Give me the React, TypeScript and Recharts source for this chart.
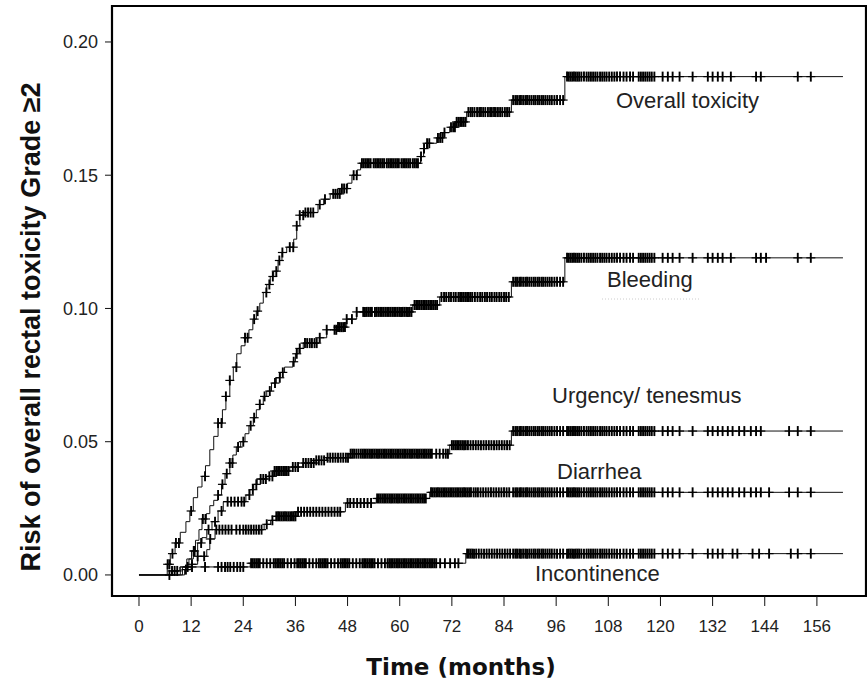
import { ComposedChart, Line, Scatter, XAxis, YAxis, ReferenceArea } from "recharts";

// axis layout (months / cumulative risk)
const X_MIN = -6.21;
const X_MAX = 167.3;
const Y_MIN = -0.0079;
const Y_MAX = 0.2135;
const END_MONTH = 162;
const X_TICKS = [0, 12, 24, 36, 48, 60, 72, 84, 96, 108, 120, 132, 144, 156];
const Y_TICKS = [0, 0.05, 0.1, 0.15, 0.2];

// step curves: [month, cumulative risk]
const OVERALL_STEPS: [number, number][] = [
    [0, 0], [6.5, 0.004], [7.2, 0.008], [8.3, 0.012], [9.5, 0.016], [10.8, 0.02], [11.7, 0.024], [12.5, 0.029],
    [13.5, 0.033], [14.5, 0.037], [15.3, 0.041], [16.3, 0.047], [17.2, 0.052], [18.2, 0.057], [19.2, 0.062],
    [20.0, 0.067], [20.9, 0.073], [21.7, 0.078], [22.5, 0.083], [23.5, 0.086], [24.4, 0.089], [25.3, 0.092],
    [26.2, 0.096], [27.0, 0.099], [27.8, 0.102], [28.6, 0.106], [29.4, 0.109], [30.2, 0.112], [31.0, 0.114],
    [32.0, 0.118], [32.9, 0.121], [34.0, 0.123], [35.6, 0.126], [36.3, 0.131], [37.0, 0.135], [38.0, 0.136],
    [41.2, 0.139], [42.5, 0.141], [44.0, 0.143], [46.5, 0.145], [48.0, 0.147], [49.0, 0.15], [50.2, 0.152],
    [51.0, 0.1545], [64.8, 0.157], [65.5, 0.16], [66.2, 0.162], [68.5, 0.164], [70.0, 0.166], [71.5, 0.168],
    [72.8, 0.17], [75.4, 0.1737], [85.7, 0.1782], [98.0, 0.187],
];
const BLEED_STEPS: [number, number][] = [
    [0, 0], [9.5, 0.003], [11.0, 0.006], [12.1, 0.009], [13.0, 0.013], [13.8, 0.017], [14.5, 0.021], [15.5, 0.023],
    [16.3, 0.026], [17.2, 0.028], [18.2, 0.03], [19.0, 0.034], [19.8, 0.038], [20.9, 0.042], [21.6, 0.045],
    [22.4, 0.048], [23.4, 0.05], [24.4, 0.053], [25.3, 0.056], [26.3, 0.059], [27.0, 0.062], [27.8, 0.064],
    [28.6, 0.067], [29.4, 0.069], [30.5, 0.072], [31.6, 0.074], [32.5, 0.076], [33.5, 0.078], [35.4, 0.08],
    [36.0, 0.083], [36.6, 0.085], [37.8, 0.087], [41.5, 0.089], [43.2, 0.092], [45.5, 0.093], [47.8, 0.096],
    [50.1, 0.0987], [63.0, 0.1013], [69.2, 0.1043], [85.7, 0.11], [98.0, 0.119],
];
const URGENCY_STEPS: [number, number][] = [
    [0, 0], [10.0, 0.003], [11.5, 0.006], [12.5, 0.009], [13.5, 0.012], [14.5, 0.014], [15.6, 0.017], [16.8, 0.02],
    [18.2, 0.024], [19.4, 0.0275], [24.6, 0.03], [25.5, 0.032], [26.4, 0.034], [27.2, 0.036], [29.4, 0.037],
    [31.0, 0.039], [34.7, 0.0405], [37.7, 0.042], [40.5, 0.043], [43.2, 0.044], [48.5, 0.0455], [71.5, 0.0487],
    [85.7, 0.054],
];
const DIARRHEA_STEPS: [number, number][] = [
    [0, 0], [10.5, 0.002], [12.0, 0.004], [13.5, 0.007], [15.6, 0.0095], [16.3, 0.0135], [17.5, 0.017],
    [28.8, 0.019], [30.3, 0.0205], [31.6, 0.022], [36.2, 0.0237], [47.5, 0.027], [54.6, 0.0287], [66.9, 0.031],
];
const INCONT_STEPS: [number, number][] = [
    [0, 0], [7.5, 0.0015], [9.4, 0.003], [25.6, 0.0044], [75.2, 0.008],
];

// censoring times (months)
const OVERALL_CENSOR = [
    6.6, 7.0, 7.7, 8.5, 9.2, 12.0, 15.2, 18.2, 19.0, 20.0, 20.9, 22.4, 24.4, 25.0, 26.5, 27.3, 29.3, 30.0, 30.8,
    31.6, 32.3, 33.0, 34.7, 35.5, 36.3, 37.0, 37.8, 38.3, 38.9, 39.5, 40.1, 41.6, 42.8, 44.7, 45.2, 45.7, 46.2,
    46.7, 47.2, 47.8, 49.4, 50.1, 51.3, 51.7, 52.1, 52.5, 52.9, 53.3, 54.0, 54.4, 54.8, 55.2, 55.6, 56.0, 56.4,
    57.0, 57.4, 57.8, 58.2, 58.6, 59.0, 59.4, 59.8, 60.4, 60.8, 61.2, 61.6, 62.0, 62.4, 63.0, 63.4, 63.8, 64.2,
    64.9, 65.6, 66.3, 66.8, 68.8, 69.3, 69.8, 70.3, 71.8, 72.3, 72.7, 73.1, 73.5, 73.9, 74.3, 74.7, 75.1, 75.8,
    76.3, 76.7, 77.2, 77.8, 78.3, 78.7, 79.2, 79.7, 80.3, 80.8, 81.2, 81.7, 82.1, 82.6, 83.1, 83.6, 84.2, 84.7,
    85.2,
];
const BLEED_CENSOR = [
    12.6, 14.7, 15.3, 18.2, 19.2, 20.2, 20.9, 21.5, 22.8, 24.0, 25.7, 26.5, 27.8, 28.9, 30.1, 31.3, 32.4, 33.1,
    35.6, 36.3, 37.0, 38.2, 38.7, 39.3, 39.8, 40.4, 40.9, 41.6, 43.2, 45.0, 45.4, 45.8, 46.2, 46.6, 47.0, 47.4,
    47.8, 49.0, 50.1, 51.6, 52.0, 52.4, 52.8, 53.2, 53.6, 54.3, 54.7, 55.1, 55.5, 55.9, 56.3, 56.7, 57.1, 57.5,
    57.9, 58.3, 58.7, 59.1, 59.5, 59.9, 60.3, 60.7, 61.1, 61.5, 61.9, 62.3, 62.7, 63.4, 63.8, 64.2, 64.6, 65.0,
    65.4, 65.8, 66.2, 66.6, 67.0, 67.4, 67.8, 68.2, 68.6, 69.6, 70.2, 70.7, 71.3, 71.8, 72.4, 72.9, 73.5, 73.9,
    74.3, 74.7, 75.1, 75.5, 75.9, 76.3, 76.7, 77.3, 77.9, 78.5, 79.0, 79.6, 80.1, 80.7, 81.2, 81.8, 82.3, 82.9,
    83.4, 84.0, 84.5, 85.1,
];
const URGENCY_CENSOR = [
    11.2, 12.8, 14.3, 16.0, 17.5, 19.0, 20.4, 21.2, 22.0, 22.8, 23.6, 24.2, 25.4, 26.2, 27.0, 28.0, 28.6, 29.2,
    30.0, 30.7, 31.2, 31.6, 32.0, 32.4, 32.8, 33.2, 33.6, 34.0, 34.4, 35.4, 36.0, 36.6, 37.8, 38.4, 39.0, 39.6,
    40.2, 40.8, 41.4, 42.0, 42.6, 43.4, 44.0, 44.6, 45.2, 45.8, 46.4, 47.0, 47.6, 48.1, 48.7, 49.1, 49.5, 50.0,
    50.5, 51.0, 51.4, 51.8, 52.2, 52.6, 53.0, 53.4, 53.8, 54.2, 54.6, 55.0, 55.4, 55.8, 56.2, 56.6, 57.0, 57.4,
    57.8, 58.2, 58.6, 59.0, 59.4, 59.8, 60.2, 60.6, 61.0, 61.4, 61.8, 62.2, 62.6, 63.0, 63.4, 63.8, 64.2, 64.6,
    65.0, 65.4, 65.8, 66.2, 66.6, 67.0, 67.4, 68.4, 69.2, 70.0, 70.6, 71.1, 72.0, 72.4, 72.8, 73.2, 73.6, 74.0,
    74.4, 74.8, 75.2, 75.7, 76.3, 76.9, 77.5, 78.1, 78.7, 79.3, 79.9, 80.5, 81.1, 81.7, 82.3, 82.9, 83.5, 84.1,
    84.7, 85.3,
];
const DIARRHEA_CENSOR = [
    10.8, 12.2, 13.5, 15.0, 16.4, 17.8, 18.5, 19.2, 19.9, 20.6, 21.3, 22.4, 23.2, 24.0, 24.6, 25.2, 25.8, 26.4,
    27.0, 27.6, 28.2, 29.4, 30.7, 31.6, 32.0, 32.4, 32.8, 33.2, 33.6, 34.0, 34.4, 34.8, 35.2, 35.6, 36.0, 36.6,
    37.3, 38.0, 38.7, 39.4, 40.1, 40.8, 41.5, 42.2, 42.9, 43.6, 44.3, 45.0, 45.7, 46.3, 48.0, 48.6, 49.4, 50.2,
    51.0, 51.8, 52.6, 53.4, 54.8, 55.2, 55.6, 56.0, 56.4, 56.8, 57.2, 57.6, 58.0, 58.4, 58.8, 59.2, 59.6, 60.0,
    60.4, 60.8, 61.2, 61.6, 62.0, 62.4, 62.8, 63.2, 63.6, 64.0, 64.4, 64.8, 65.2, 65.6, 66.0, 67.2, 67.6, 68.0,
    68.4, 68.8, 69.2, 69.6, 70.0, 70.4, 70.8, 71.2, 71.6, 72.0, 72.4, 72.8, 73.2, 73.6, 74.0, 74.4, 74.8, 75.2,
    75.6, 76.0, 76.4, 77.0, 77.5, 78.0, 78.6, 79.2, 79.8, 80.4, 81.0, 81.6, 82.2, 82.8, 83.4, 84.0, 84.6, 85.2,
];
const INCONT_CENSOR = [
    7.0, 7.6, 8.2, 8.8, 12.2, 15.2, 18.2, 19.0, 19.8, 20.4, 21.0, 21.8, 22.6, 23.3, 24.0, 25.8, 26.2, 26.6, 27.0,
    27.4, 27.8, 28.6, 29.4, 30.2, 31.0, 31.4, 31.8, 32.2, 32.6, 33.0, 33.4, 34.2, 35.0, 35.8, 36.4, 36.8, 37.2,
    37.6, 38.0, 38.4, 39.2, 40.0, 40.8, 41.4, 41.8, 42.2, 42.6, 43.0, 43.4, 44.2, 45.0, 45.8, 46.4, 46.8, 47.2,
    47.6, 48.0, 48.4, 49.2, 50.0, 50.8, 51.4, 51.8, 52.2, 52.6, 53.0, 53.4, 53.8, 54.2, 55.0, 55.8, 56.6, 57.2,
    57.6, 58.0, 58.4, 58.8, 59.2, 59.6, 60.0, 60.4, 60.8, 61.2, 61.6, 62.0, 62.4, 62.8, 63.2, 63.6, 64.0, 64.4,
    64.8, 65.2, 65.6, 66.0, 66.4, 66.8, 67.2, 67.6, 68.0, 68.4, 69.3, 70.4, 71.6, 72.7, 73.5, 75.5, 75.9, 76.3,
    76.7, 77.1, 77.6, 78.2, 78.8, 79.4, 80.0, 80.6, 81.2, 81.8, 82.4, 83.0, 83.6, 84.2, 84.8, 85.4,
];
// late follow-up censoring shared by all endpoints
const LATE_CENSOR = [
    86.1, 86.6, 87.0, 87.5, 87.9, 88.4, 88.9, 89.3, 89.8, 90.3, 90.8, 91.2, 91.7, 92.1, 92.6, 93.0, 93.5, 94.0,
    94.5, 95.0, 95.6, 96.2, 96.9, 97.6, 98.5, 98.9, 99.3, 99.7, 100.1, 100.5, 100.9, 101.3, 101.8, 102.4, 103.0,
    103.5, 104.0, 104.5, 105.0, 105.5, 106.1, 106.6, 107.1, 107.6, 108.2, 108.8, 109.4, 110.0, 110.7, 111.5,
    112.2, 113.0, 113.7, 115.0, 115.5, 116.0, 116.5, 117.0, 117.5, 118.0, 118.6,
];
const OVERALL_TAIL = [120.5, 121.7, 122.8, 124.4, 127.4, 130.9, 132.0, 133.2, 134.3, 136.2, 142.0, 143.1, 151.6, 154.6];
const BLEED_TAIL = [120.5, 121.7, 122.8, 124.4, 127.4, 130.9, 132.0, 133.2, 134.3, 136.2, 142.0, 143.1, 144.3, 151.6, 154.6];
const URGENCY_TAIL = [120.5, 121.7, 122.8, 124.4, 127.4, 130.9, 132.0, 133.2, 134.3, 135.5, 136.6, 138.1, 139.3, 140.8, 142.0, 143.1, 149.6, 151.6, 154.6];
const DIARRHEA_TAIL = [120.5, 121.7, 122.8, 124.4, 127.4, 130.9, 132.0, 133.2, 134.3, 135.5, 136.6, 138.1, 139.3, 140.8, 142.0, 143.1, 145.0, 149.6, 151.6, 154.6];
const INCONT_TAIL = [120.5, 121.7, 122.8, 124.4, 127.4, 130.9, 132.0, 133.2, 134.3, 136.6, 137.7, 141.2, 142.7, 145.0, 150.0, 151.6, 154.6];

const SERIES = [
    { name: "Overall toxicity", steps: OVERALL_STEPS, censor: [...OVERALL_CENSOR, ...LATE_CENSOR, ...OVERALL_TAIL] },
    { name: "Bleeding", steps: BLEED_STEPS, censor: [...BLEED_CENSOR, ...LATE_CENSOR, ...BLEED_TAIL] },
    { name: "Urgency/ tenesmus", steps: URGENCY_STEPS, censor: [...URGENCY_CENSOR, ...LATE_CENSOR, ...URGENCY_TAIL] },
    { name: "Diarrhea", steps: DIARRHEA_STEPS, censor: [...DIARRHEA_CENSOR, ...LATE_CENSOR, ...DIARRHEA_TAIL] },
    { name: "Incontinence", steps: INCONT_STEPS, censor: [...INCONT_CENSOR, ...LATE_CENSOR, ...INCONT_TAIL] },
];

const FONT = "'Liberation Sans', Arial, Helvetica, sans-serif";
const INK = "#111";

const stepAt = (steps: [number, number][], t: number) => {
    let v = 0;
    for (const [st, sv] of steps) if (st <= t) v = sv;
    return v;
};

const CensorMark = (p: any) => {
    const { cx, cy } = p;
    if (cx == null || cy == null) return null;
    return (
        <g stroke="#000" fill="none">
            <path d={`M${cx - 4.5},${cy}H${cx + 4.5}`} strokeWidth={1.2} />
            <path d={`M${cx},${cy - 5}V${cy + 5}`} strokeWidth={1.9} />
        </g>
    );
};

export default function App() {
    return (
        <div style={{ position: "relative", width: 867, height: 686, background: "#fff" }}>
            <style>{"body{margin:0}"}</style>
            <ComposedChart width={867} height={686} margin={{ top: 6, right: 1, left: 0, bottom: 0 }}>
                <XAxis
                    type="number" dataKey="t" domain={[X_MIN, X_MAX]} ticks={X_TICKS} allowDataOverflow
                    height={90} axisLine={false} tickSize={10} tickMargin={14}
                    tickLine={{ stroke: INK }} tick={{ fill: "#222", fontSize: 17, fontFamily: FONT }}
                />
                <YAxis
                    type="number" dataKey="v" domain={[Y_MIN, Y_MAX]} ticks={Y_TICKS} allowDataOverflow
                    width={112} axisLine={false} tickSize={7} tickMargin={7}
                    tickFormatter={(v: number) => v.toFixed(2)}
                    tickLine={{ stroke: INK }} tick={{ fill: "#222", fontSize: 18, fontFamily: FONT }}
                />
                {SERIES.map(s => (
                    <Line
                        key={s.name}
                        data={[...s.steps.map(([t, v]) => ({ t, v })), { t: END_MONTH, v: s.steps[s.steps.length - 1][1] }]}
                        dataKey="v" type="stepAfter" stroke={INK} strokeWidth={1} dot={false}
                        activeDot={false} isAnimationActive={false}
                    />
                ))}
                {SERIES.map(s => (
                    <Scatter
                        key={s.name + "-c"}
                        data={s.censor.map(t => ({ t, v: stepAt(s.steps, t) }))}
                        dataKey="v" shape={CensorMark} isAnimationActive={false}
                    />
                ))}
                <ReferenceArea
                    x1={X_MIN} x2={X_MAX} y1={Y_MIN} y2={Y_MAX} ifOverflow="visible"
                    fill="none" fillOpacity={0} stroke="#000" strokeWidth={2.2}
                />
            </ComposedChart>
            <svg width={867} height={686} style={{ position: "absolute", left: 0, top: 0, pointerEvents: "none" }}>
                <text transform="translate(31,327) rotate(-90)" textAnchor="middle" dominantBaseline="central"
                    fontFamily={FONT} fontWeight="bold" fontSize={27} fill="#111">
                    Risk of overall rectal toxicity Grade ≥2
                </text>
                <text x={461} y={675} textAnchor="middle" fontFamily="'DejaVu Sans', sans-serif" fontWeight="bold" fontSize={23} fill="#111">
                    Time (months)
                </text>
                <g fontFamily={FONT} fontSize={22} fill="#222">
                    <text x={616} y={108}>Overall toxicity</text>
                    <text x={607} y={287}>Bleeding</text>
                    <text x={552} y={403}>Urgency/ tenesmus</text>
                    <text x={557} y={479}>Diarrhea</text>
                    <text x={535} y={581}>Incontinence</text>
                </g>
                <line x1={602} x2={700} y1={299} y2={299} stroke="#ccc" strokeDasharray="1 2" />
            </svg>
        </div>
    );
}
